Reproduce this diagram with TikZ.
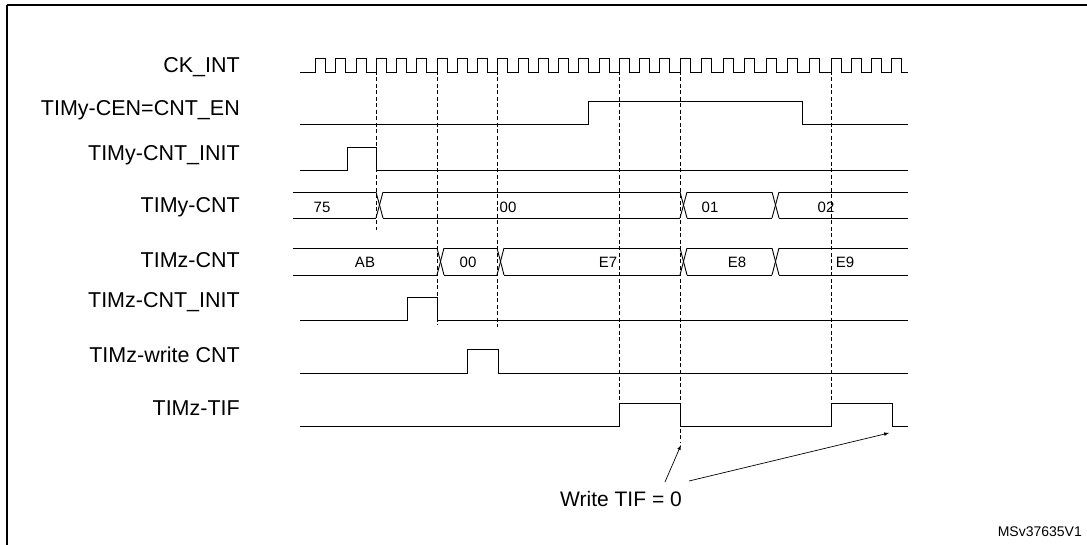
\documentclass[tikz,border=0pt]{standalone}
\usepackage{fontspec}
\setmainfont{Liberation Sans}
\usetikzlibrary{positioning}
\tikzset{
  sig/.style={line width=0.9pt},
  guide/.style={dashed, line width=0.7pt, dash pattern=on 4pt off 2.5pt},
  lbl/.style={anchor=east, font=\fontsize{21.5}{23}\selectfont, inner sep=0pt},
  val/.style={font=\fontsize{15}{17}\selectfont, inner sep=0pt},
  note/.style={-latex, line width=0.7pt}
}
\begin{document}
\begin{tikzpicture}[x=1pt, y=-1pt]
  \useasboundingbox (0,0) rectangle (1087,545);
  \draw[line width=1.2pt] (7,5) -- (7,560);
  \draw[line width=1.2pt] (7,5) -- (1100,5);

  % signal names
  \node[lbl] (lck)   at (240,67)  {CK\_INT};
  \node[lbl] (lcen)  at (240,110) {TIMy-CEN=CNT\_EN};
  \node[lbl] (lyini) at (240,155) {TIMy-CNT\_INIT};
  \node[lbl] (lycnt) at (240,207) {TIMy-CNT};
  \node[lbl] (lzcnt) at (240,260) {TIMz-CNT};
  \node[lbl] (lzini) at (240,302) {TIMz-CNT\_INIT};
  \node[lbl] (lzwr)  at (240,355) {TIMz-write CNT};
  \node[lbl] (ltif)  at (240,408) {TIMz-TIF};

  % clock
  \draw[sig] (300,72)
    \foreach \k in {0,...,18} {-- ({315.5+20.25*\k},72) -- ++(0,-14) -- ++(10,0) -- ++(0,14)}
    \foreach \k in {1,...,7} {-- ({680+21.57*\k},72) -- ++(0,-14) -- ++(10,0) -- ++(0,14)}
    \foreach \k in {1,...,3} {-- ({831+20.3*\k},72) -- ++(0,-14) -- ++(10,0) -- ++(0,14)}
    -- (908,72);

  % single-bit signals
  \draw[sig] (300,124) -- (588,124) -- (588,101) -- (802,101) -- (802,124) -- (908,124);
  \draw[sig] (300,170) -- (347,170) -- (347,147) -- (376,147) -- (376,170) -- (908,170);
  \draw[sig] (300,320) -- (407,320) -- (407,297) -- (437,297) -- (437,320) -- (908,320);
  \draw[sig] (300,373) -- (467,373) -- (467,349) -- (498,349) -- (498,373) -- (908,373);
  \draw[sig] (300,426) -- (619,426) -- (619,403) -- (680,403) -- (680,426)
    -- (831,426) -- (831,403) -- (892,403) -- (892,426) -- (908,426);

  % TIMy-CNT bus
  \foreach \a/\b in {293/376, 383/680, 687/772, 779/908} {
    \draw[sig] (\a,192) -- (\b,192);
    \draw[sig] (\a,218) -- (\b,218);
  }
  \foreach \t in {376,680,772} {
    \draw[sig] (\t,192) -- ++(7,26);
    \draw[sig] (\t,218) -- ++(7,-26);
  }
  \node[val] (y75) at (322,207) {75};
  \node[val] (y00) at (508,207) {00};
  \node[val] (y01) at (710,207) {01};
  \node[val] (y02) at (826,207) {02};

  % TIMz-CNT bus
  \foreach \a/\b in {293/437, 444/497, 504/680, 687/772, 779/908} {
    \draw[sig] (\a,248) -- (\b,248);
    \draw[sig] (\a,275) -- (\b,275);
  }
  \foreach \t in {437,497,680,772} {
    \draw[sig] (\t,248) -- ++(7,27);
    \draw[sig] (\t,275) -- ++(7,-27);
  }
  \node[val] (zab) at (365,262) {AB};
  \node[val] (z00) at (468,262) {00};
  \node[val] (ze7) at (608,262) {E7};
  \node[val] (ze8) at (737,262) {E8};
  \node[val] (ze9) at (845,262) {E9};

  % guide lines
  \foreach \x/\e in {376/230, 437/325, 497/327, 619/403, 680/442, 831/403} {
    \coordinate (gt\x) at (\x,58);
    \coordinate (gb\x) at (\x,\e);
    \draw[guide] (gt\x) -- (gb\x);
  }

  % note
  \node[font=\fontsize{21}{23}\selectfont, inner sep=0pt] (wtif) at (621,499) {Write TIF = 0};
  \coordinate (tif1) at (681,445);
  \coordinate (tif2) at (889,433);
  \draw[note] ([shift={(44,-17)}]wtif.center) -- (tif1);
  \draw[note] ([shift={(68,-18)}]wtif.center) -- (tif2);

  \node[font=\fontsize{14}{15}\selectfont, anchor=east, inner sep=0pt] (ref) at (1082,532) {MSv37635V1};
\end{tikzpicture}
\end{document}
